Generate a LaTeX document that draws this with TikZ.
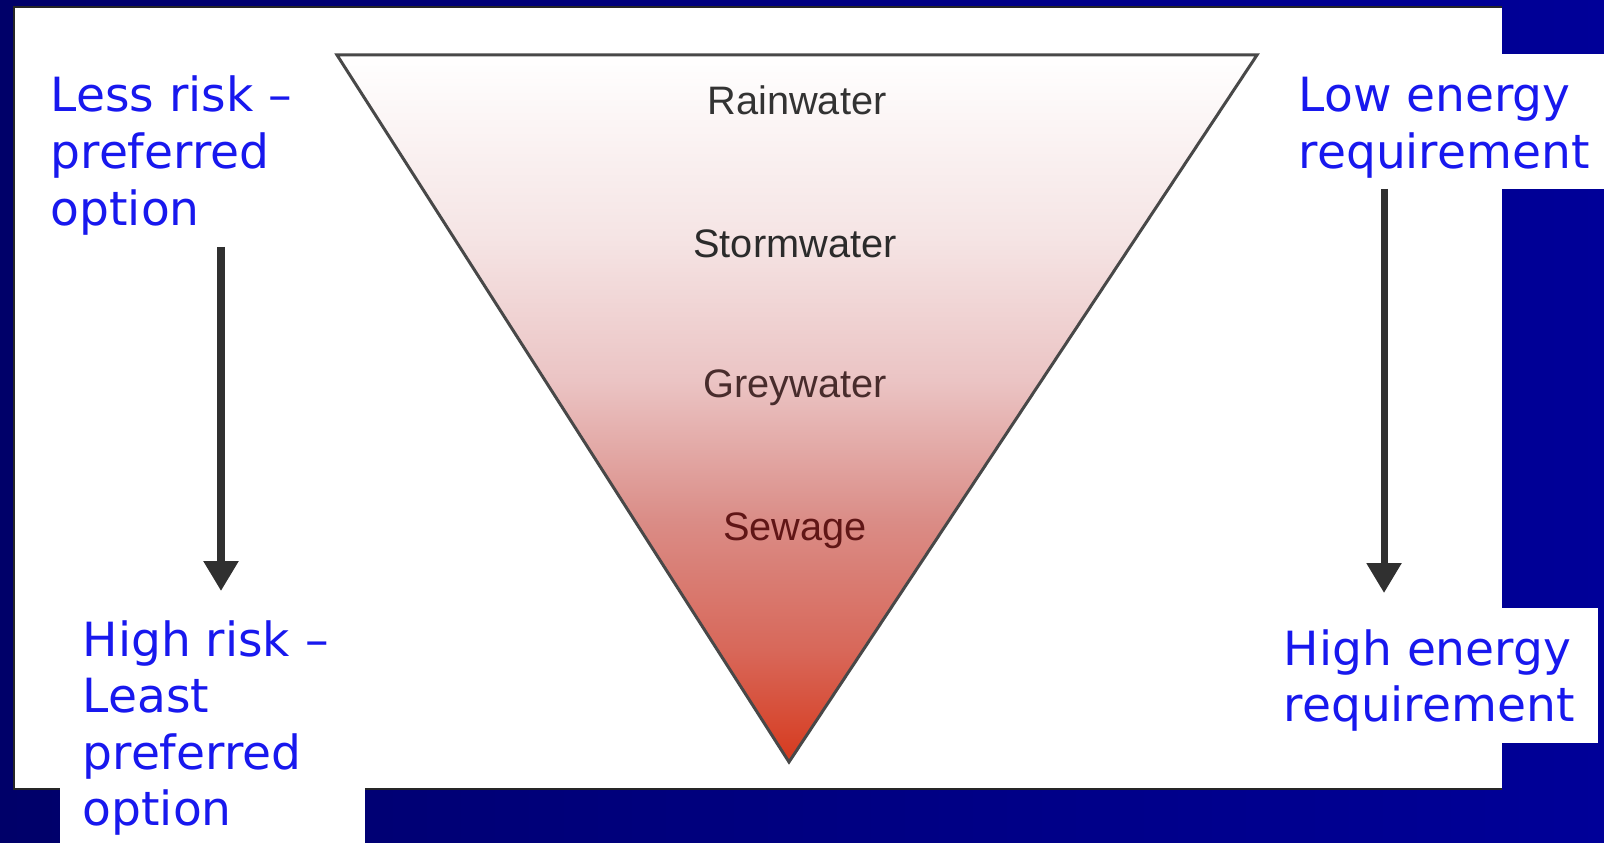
\documentclass[tikz,border=0pt]{standalone}
\usepackage{fontspec}
\usetikzlibrary{arrows.meta}
\newfontfamily\lblfont{DejaVu Sans}
\newfontfamily\trifont{Liberation Sans}
\definecolor{navyL}{RGB}{0,0,105}
\definecolor{navyR}{RGB}{0,0,152}
\definecolor{lblblue}{RGB}{24,24,238}
\definecolor{edgegray}{RGB}{72,72,72}
\definecolor{arrowgray}{RGB}{48,48,48}
\definecolor{tc0}{RGB}{214,58,30}
\definecolor{tc1}{RGB}{216,104,90}
\definecolor{tc2}{RGB}{218,140,134}
\definecolor{tc3}{RGB}{235,196,196}
\definecolor{tc4}{RGB}{245,228,228}
\pgfdeclareverticalshading{trishade}{100bp}{color(0bp)=(tc0); color(25bp)=(tc0); color(33bp)=(tc1); color(42bp)=(tc2); color(52bp)=(tc3); color(62bp)=(tc4); color(75bp)=(white); color(100bp)=(white)}
\tikzset{
  bluelabel/.style={anchor=base west, inner sep=0pt, text=lblblue},
  trilabel/.style={anchor=base, inner sep=0pt, font=\trifont\fontsize{11.3}{13}\selectfont},
  downarrow/.style={draw=arrowgray, line width=2pt, -{Triangle[length=8.5pt,width=9.5pt]}},
  labelbox/.style={fill=white}
}
\newcommand{\lbltext}[1]{\parbox[t]{9cm}{\raggedright\lblfont\fontsize{13.4}{16.1}\selectfont #1}}
\begin{document}
\begin{tikzpicture}[x=0.01cm,y=-0.01cm]
\useasboundingbox (0,0) rectangle (1604,843);
% background
\shade[left color=navyL, right color=navyR] (0,0) rectangle (1604,843);
% white panel
\fill[white] (14,7) rectangle (1502,788);
\draw[line width=0.7pt, black!85] (1502,7) -- (14,7) -- (14,789) -- (1502,789);
% label boxes
\fill[labelbox] (1502,54) rectangle (1604,189);
\fill[labelbox] (1502,608) rectangle (1598,743);
\fill[labelbox] (60,760) rectangle (365,843);
% triangle
\coordinate (tl) at (337,55);
\coordinate (tr) at (1257,55);
\coordinate (tb) at (789,762);
\shade[shading=trishade] (tl) -- (tr) -- (tb) -- cycle;
\draw[edgegray, line width=0.85pt, line join=miter] (tl) -- (tr) -- (tb) -- cycle;
\node[trilabel, text=black!80] (rain) at (797,115) {Rainwater};
\node[trilabel, text=black!83] (storm) at (795,258) {Stormwater};
\node[trilabel, text={rgb,255:red,72;green,44;blue,44}] (grey) at (795,397) {Greywater};
\node[trilabel, text={rgb,255:red,96;green,22;blue,22}] (sew) at (795,540) {Sewage};
% labels
\node[bluelabel] (lesslbl) at (50,112) {\lbltext{Less risk –\\preferred\\option}};
\node[bluelabel] (highlbl) at (82,656) {\lbltext{High risk –\\Least\\preferred\\option}};
\node[bluelabel] (lowE) at (1298,112) {\lbltext{Low energy\\requirement}};
\node[bluelabel] (highE) at (1283,665) {\lbltext{High energy\\requirement}};
% arrows
\coordinate (la1) at (221,247);
\coordinate (la2) at (221,591);
\coordinate (ra1) at (1384,189);
\coordinate (ra2) at (1384,593);
\draw[downarrow] (la1) -- (la2);
\draw[downarrow] (ra1) -- (ra2);
\end{tikzpicture}
\end{document}
